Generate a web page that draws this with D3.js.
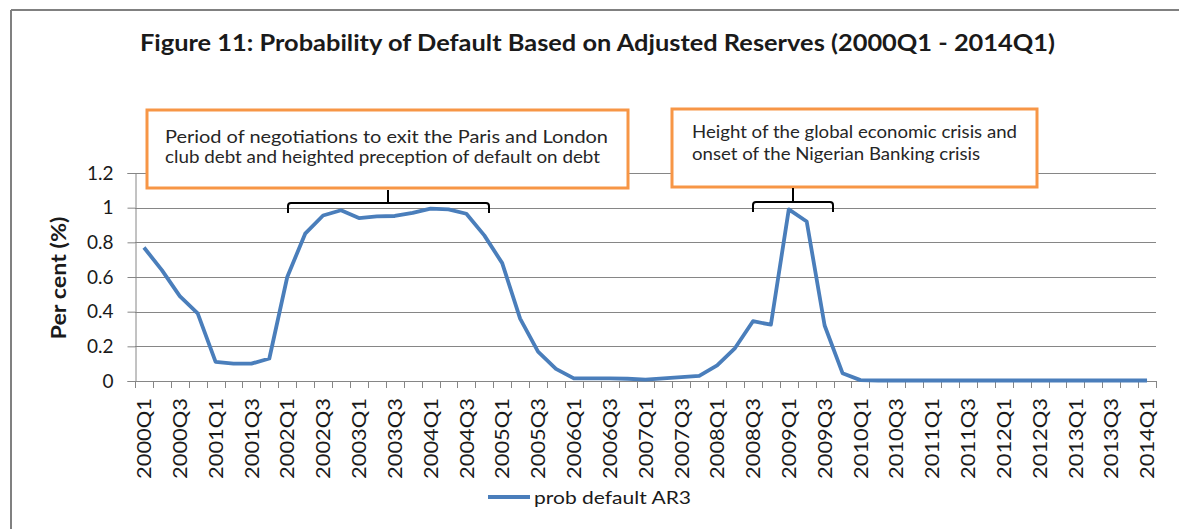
<!DOCTYPE html>
<html>
<head>
<meta charset="utf-8">
<script src="https://cdn.jsdelivr.net/npm/d3@7"></script>
<style>
  html, body { margin: 0; padding: 0; background: #ffffff; }
  svg { display: block; font-family: Lato, "Liberation Sans", sans-serif; }
</style>
</head>
<body>
<svg id="chart" width="1179" height="529"></svg>
<script>
// ---- data ----
const categories = [
  "2000Q1","2000Q2","2000Q3","2000Q4","2001Q1","2001Q2","2001Q3","2001Q4",
  "2002Q1","2002Q2","2002Q3","2002Q4","2003Q1","2003Q2","2003Q3","2003Q4",
  "2004Q1","2004Q2","2004Q3","2004Q4","2005Q1","2005Q2","2005Q3","2005Q4",
  "2006Q1","2006Q2","2006Q3","2006Q4","2007Q1","2007Q2","2007Q3","2007Q4",
  "2008Q1","2008Q2","2008Q3","2008Q4","2009Q1","2009Q2","2009Q3","2009Q4",
  "2010Q1","2010Q2","2010Q3","2010Q4","2011Q1","2011Q2","2011Q3","2011Q4",
  "2012Q1","2012Q2","2012Q3","2012Q4","2013Q1","2013Q2","2013Q3","2013Q4",
  "2014Q1"
];
const probDefaultAR3 = [
  0.77, 0.64, 0.49, 0.39, 0.11, 0.10, 0.10, 0.13,
  0.60, 0.85, 0.955, 0.985, 0.94, 0.95, 0.952, 0.97,
  0.995, 0.99, 0.965, 0.84, 0.68, 0.36, 0.17, 0.07,
  0.015, 0.015, 0.015, 0.013, 0.008, 0.015, 0.022, 0.03,
  0.09, 0.19, 0.345, 0.325, 0.99, 0.92, 0.32, 0.045,
  0.005, 0.003, 0.003, 0.003, 0.003, 0.003, 0.003, 0.003,
  0.003, 0.003, 0.003, 0.003, 0.003, 0.003, 0.003, 0.003,
  0.003
];
const xTickLabels = [
  "2000Q1","2000Q3","2001Q1","2001Q3","2002Q1","2002Q3","2003Q1","2003Q3",
  "2004Q1","2004Q3","2005Q1","2005Q3","2006Q1","2006Q3","2007Q1","2007Q3",
  "2008Q1","2008Q3","2009Q1","2009Q3","2010Q1","2010Q3","2011Q1","2011Q3",
  "2012Q1","2012Q3","2013Q1","2013Q3","2014Q1"
];
const yTicks = [0, 0.2, 0.4, 0.6, 0.8, 1, 1.2];
const yTickLabels = ["0", "0.2", "0.4", "0.6", "0.8", "1", "1.2"];
const seriesName = "prob default AR3";
const titleText = "Figure 11: Probability of Default Based on Adjusted Reserves (2000Q1 - 2014Q1)";
const yAxisTitle = "Per cent (%)";
const note1Lines = ["Period of negotiations to exit the Paris and London",
                    "club debt and heighted preception of default on debt"];
const note2Lines = ["Height of the global economic crisis and",
                    "onset of the Nigerian Banking crisis"];

// ---- layout ----
const svg = d3.select("#chart");
const plot = { left: 135, right: 1156, top: 173, bottom: 381 };
const gridColor = "#868686";
const lineColor = "#4A7EBB";
const orange = "#F79646";
const textColor = "#1a1a1a";

const x = d3.scaleBand().domain(categories).range([plot.left, plot.right]).padding(0);
const y = d3.scaleLinear().domain([0, 1.2]).range([plot.bottom, plot.top]);
const cx = d => x(d) + x.bandwidth() / 2;

// outer frame
svg.append("line").attr("x1", 11).attr("x2", 1179).attr("y1", 10).attr("y2", 10)
  .attr("stroke", "#808080").attr("stroke-width", 2);
svg.append("line").attr("x1", 11).attr("x2", 11).attr("y1", 10).attr("y2", 529)
  .attr("stroke", "#808080").attr("stroke-width", 2);

// title
svg.append("text").attr("x", 140).attr("y", 51)
  .attr("font-size", 22).attr("font-weight", "bold").attr("fill", textColor)
  .attr("textLength", 915).attr("lengthAdjust", "spacingAndGlyphs")
  .text(titleText);

// gridlines
svg.append("g").selectAll("line")
  .data(yTicks.filter(v => v > 0)).join("line")
  .attr("x1", plot.left).attr("x2", plot.right)
  .attr("y1", d => Math.round(y(d)) + 0.5).attr("y2", d => Math.round(y(d)) + 0.5)
  .attr("stroke", gridColor).attr("stroke-width", 1);

// y axis
const yAxis = d3.axisLeft(y).tickValues(yTicks).tickSize(8).tickPadding(14)
  .tickFormat((d, i) => yTickLabels[i]);
const gy = svg.append("g").attr("transform", `translate(${plot.left + 0.5},0)`).call(yAxis);
gy.select(".domain").attr("stroke", gridColor);
gy.selectAll(".tick line").attr("stroke", gridColor);
gy.selectAll(".tick text").attr("font-size", 19).attr("fill", textColor)
  .attr("font-family", "Lato, sans-serif");

// x axis line & boundary ticks
const gx = svg.append("g");
gx.append("line").attr("x1", plot.left).attr("x2", plot.right)
  .attr("y1", plot.bottom + 0.5).attr("y2", plot.bottom + 0.5).attr("stroke", gridColor);
const boundaries = categories.map(c => x(c)).concat([x(categories[categories.length - 1]) + x.bandwidth()]);
gx.selectAll("line.bt").data(boundaries).join("line").attr("class", "bt")
  .attr("x1", d => Math.round(d) + 0.5).attr("x2", d => Math.round(d) + 0.5)
  .attr("y1", plot.bottom).attr("y2", plot.bottom + 7).attr("stroke", gridColor);

// x tick labels (rotated)
const xAxis = d3.axisBottom(x).tickValues(xTickLabels).tickSize(0).tickPadding(0);
const gxl = svg.append("g").attr("transform", `translate(0,${plot.bottom})`).call(xAxis);
gxl.select(".domain").remove();
gxl.selectAll(".tick text")
  .attr("font-size", 20).attr("fill", textColor).attr("font-family", "Lato, sans-serif")
  .attr("transform", "rotate(-90)")
  .attr("text-anchor", "end")
  .attr("x", -17).attr("y", 0).attr("dy", "0.36em")
  .attr("textLength", 81).attr("lengthAdjust", "spacingAndGlyphs");

// y axis title
svg.append("text")
  .attr("transform", `translate(66,278) rotate(-90)`)
  .attr("text-anchor", "middle")
  .attr("font-size", 20).attr("font-weight", "bold").attr("fill", textColor)
  .attr("textLength", 123).attr("lengthAdjust", "spacingAndGlyphs")
  .text(yAxisTitle);

// series line
const line = d3.line().x((d, i) => cx(categories[i])).y(d => y(d));
svg.append("path").datum(probDefaultAR3)
  .attr("fill", "none").attr("stroke", lineColor).attr("stroke-width", 3.8)
  .attr("stroke-linejoin", "round").attr("stroke-linecap", "butt")
  .attr("d", line);

// annotation boxes
function noteBox(x0, y0, x1, y1, lines, tx, baselines, lengths) {
  svg.append("rect").attr("x", x0).attr("y", y0).attr("width", x1 - x0).attr("height", y1 - y0)
    .attr("fill", "#ffffff").attr("stroke", orange).attr("stroke-width", 3);
  lines.forEach((t, i) => {
    svg.append("text").attr("x", tx).attr("y", baselines[i])
      .attr("font-size", 17).attr("fill", "#262626")
      .attr("textLength", lengths[i]).attr("lengthAdjust", "spacingAndGlyphs")
      .text(t);
  });
}
noteBox(147, 110, 628, 188, note1Lines, 165, [143, 163], [443, 435]);
noteBox(672, 109, 1037, 187, note2Lines, 692, [138, 160], [325, 288]);

// brackets
function bracket(x0, x1, xm, yTop, yLine, yEnd) {
  const r = 3;
  const p = d3.path();
  p.moveTo(x0, yEnd); p.lineTo(x0, yLine + r); p.quadraticCurveTo(x0, yLine, x0 + r, yLine);
  p.lineTo(x1 - r, yLine); p.quadraticCurveTo(x1, yLine, x1, yLine + r); p.lineTo(x1, yEnd);
  p.moveTo(xm, yLine); p.lineTo(xm, yTop);
  svg.append("path").attr("d", p.toString()).attr("fill", "none")
    .attr("stroke", "#000000").attr("stroke-width", 2);
}
bracket(288, 489, 388, 190, 203, 213);
bracket(753, 833, 793, 188, 202, 212);

// legend
svg.append("line").attr("x1", 488).attr("x2", 530).attr("y1", 497).attr("y2", 497)
  .attr("stroke", lineColor).attr("stroke-width", 3.8);
svg.append("text").attr("x", 534).attr("y", 504)
  .attr("font-size", 18).attr("fill", textColor)
  .attr("textLength", 157).attr("lengthAdjust", "spacingAndGlyphs")
  .text(seriesName);
</script>
</body>
</html>
